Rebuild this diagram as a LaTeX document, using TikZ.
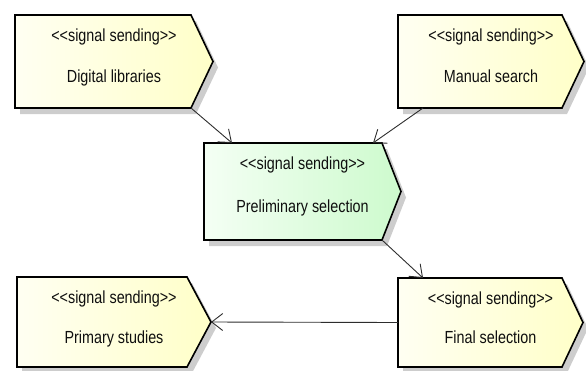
\documentclass[tikz,border=0pt]{standalone}
\usepackage{fontspec}
\newfontfamily\nfont[FakeStretch=0.82]{Liberation Sans}
\usetikzlibrary{arrows.meta,calc}
\definecolor{ylL}{RGB}{255,255,242}
\definecolor{ylR}{RGB}{255,255,200}
\definecolor{grL}{RGB}{244,255,244}
\definecolor{grR}{RGB}{205,250,205}
\definecolor{shd}{RGB}{205,205,205}
\definecolor{lnc}{RGB}{45,45,45}
\definecolor{txc}{RGB}{15,15,15}
\tikzset{
  yellowbox/.style={left color=ylL,right color=ylR},
  greenbox/.style={left color=grL,right color=grR},
  boxline/.style={draw=black,line width=1.6pt,line join=miter},
  txt/.style={inner sep=0pt,anchor=base,text=txc,font=\nfont\fontsize{17.5}{20}\selectfont},
  conn/.style={draw=lnc,line width=0.9pt,-{Straight Barb[length=11pt,width=17pt]}}
}
% #1 name, #2 L, #3 T, #4 R, #5 Tip, #6 B, #7 fill style, #8 text
\newcommand\sigbox[8]{%
  \fill[shd] (#2+5,#3+6) -- (#4+5,#3+6) -- (#5+5,{(#3+#6)/2+6}) -- (#4+5,#6+6) -- (#2+5,#6+6) -- cycle;
  \coordinate (#1-tl) at (#2,#3);
  \coordinate (#1-tr) at (#4,#3);
  \coordinate (#1-tip) at (#5,{(#3+#6)/2});
  \coordinate (#1-br) at (#4,#6);
  \coordinate (#1-bl) at (#2,#6);
  \path[#7,boxline] (#1-tl) -- (#1-tr) -- (#1-tip) -- (#1-br) -- (#1-bl) -- cycle;
  \node[txt] (#1-st) at ({(#2+#5)/2},#3+26) {<<signal sending>>};
  \node[txt] (#1) at ({(#2+#5)/2},{(#3+#6)/2+21}) {#8};
}
\begin{document}
\begin{tikzpicture}[x=1pt,y=-1pt]
\useasboundingbox (0,0) rectangle (586,370);
\sigbox{dl}{15}{15}{191}{213}{108}{yellowbox}{Digital libraries}
\sigbox{ms}{398}{15}{562}{584}{108}{yellowbox}{Manual search}
\sigbox{pre}{204}{143}{382}{401}{240}{greenbox}{Preliminary selection}
\sigbox{ps}{17}{277}{187}{211}{367}{yellowbox}{Primary studies}
\sigbox{fs}{398}{278}{562}{583}{367}{yellowbox}{Final selection}
\draw[conn] (dl-br) -- ([xshift=28pt]pre-tl);
\draw[conn] ([xshift=25pt]ms-bl) -- ([xshift=-9pt]pre-tr);
\draw[conn] (pre-br) -- ([xshift=25pt]fs-tl);
\coordinate (fs-l) at ($(fs-tl)!0.5!(fs-bl)$);
\draw[conn] (fs-l) -- (ps-tip);
\end{tikzpicture}
\end{document}
